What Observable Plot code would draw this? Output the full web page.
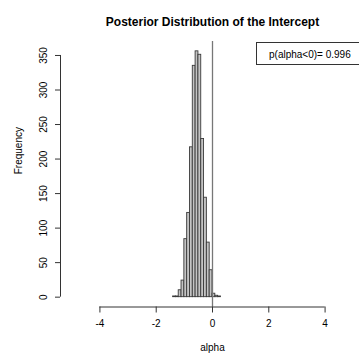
<!DOCTYPE html>
<html>
<head>
<meta charset="utf-8">
<script src="https://cdn.jsdelivr.net/npm/d3@7"></script>
<script src="https://cdn.jsdelivr.net/npm/@observablehq/plot@0.6"></script>
<style>
  html, body { margin: 0; padding: 0; background: white; }
  svg { display: block; }
</style>
</head>
<body>
<div id="chart"></div>
<script>
// ---- data ----
const title = "Posterior Distribution of the Intercept";
const xLabel = "alpha";
const yLabel = "Frequency";
const legendText = "p(alpha<0)= 0.996";
const xlim = [-5, 5];
const xTicks = [-4, -2, 0, 2, 4];
const yTicks = [0, 50, 100, 150, 200, 250, 300, 350];
const binWidth = 0.1;
const binStarts = [-1.4, -1.3, -1.2, -1.1, -1.0, -0.9, -0.8, -0.7, -0.6, -0.5, -0.4, -0.3, -0.2, -0.1, 0.0, 0.1, 0.2];
const counts    = [1, 1, 10, 24, 84, 122, 217, 335, 356, 351, 229, 144, 79, 39, 5, 2, 1];

// ---- build ----
const bins = binStarts.map((s, i) => ({x1: s, x2: +(s + binWidth).toFixed(10), count: counts[i]}));
const ext = ([a, b]) => [a - 0.04 * (b - a), b + 0.04 * (b - a)];
const xDom = ext(xlim);
const yDom = ext([0, d3.max(counts)]);

const W = 359, H = 356;
const mL = 60, mT = 41, mB = 49.5;
const xRange = [mL, 364];
const font = "'Liberation Sans', Arial, Helvetica, sans-serif";

const plot = Plot.plot({
  width: W,
  height: H,
  marginLeft: mL,
  marginRight: W - xRange[1],
  marginTop: mT,
  marginBottom: mB,
  style: {fontFamily: font, fontSize: "10px", background: "white", color: "black", overflow: "hidden"},
  x: {domain: xDom, range: xRange},
  y: {domain: yDom},
  marks: [
    Plot.rectY(bins, {x1: "x1", x2: "x2", y: "count", fill: "#c4c4c4", stroke: "#3a3a3a", strokeWidth: 0.9}),
    Plot.ruleX([0], {stroke: "#777", strokeWidth: 1.3}),
    // x axis
    Plot.ruleY([yDom[0]], {x1: xTicks[0], x2: xTicks[xTicks.length - 1], stroke: "#333"}),
    Plot.axisX({ticks: xTicks, tickSize: 6, tickPadding: 7, tickFormat: d => String(d), label: null, stroke: "#333", fontSize: 10}),
    // y axis
    Plot.ruleX([xDom[0]], {y1: yTicks[0], y2: yTicks[yTicks.length - 1], stroke: "#333"}),
    Plot.axisY({ticks: yTicks, tickSize: 5, tickPadding: 9, tickRotate: -90, tickFormat: d => String(d), label: null, stroke: "#333", fontSize: 10}),
    // labels
    Plot.text([xLabel], {frameAnchor: "bottom", dy: 44, fontSize: 10}),
    Plot.text([yLabel], {frameAnchor: "left", dx: -42, rotate: -90, fontSize: 10}),
    Plot.text([title], {frameAnchor: "top", dy: -24, fontSize: 12, fontWeight: "bold"})
  ]
});

// legend box (top-right of the plot region, like R's legend("topright"))
const svg = d3.select(plot);
const g = svg.append("g").attr("font-family", font).attr("font-size", 10).attr("text-anchor", "start");
g.append("rect")
  .attr("x", 256.5).attr("y", 42.5)
  .attr("width", xRange[1] - 256.5).attr("height", 22)
  .attr("fill", "white").attr("stroke", "#333");
g.append("text").attr("x", 269).attr("y", 54).attr("dy", "0.35em").attr("fill", "black").text(legendText);

document.getElementById("chart").appendChild(plot);
</script>
</body>
</html>
